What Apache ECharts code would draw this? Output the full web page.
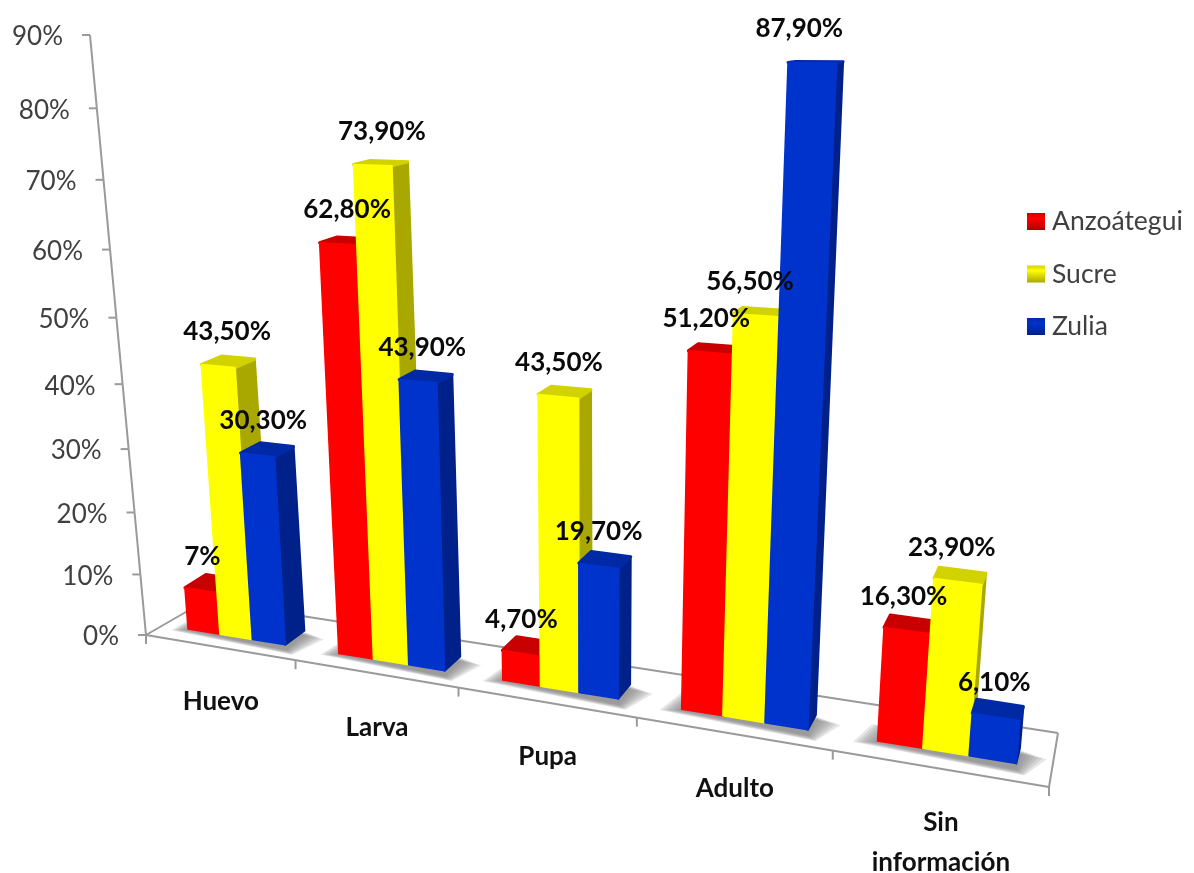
<!DOCTYPE html>
<html><head><meta charset="utf-8">
<style>html,body{margin:0;padding:0;background:#fff}#c{width:1194px;height:873px}</style>
<script src="https://cdn.jsdelivr.net/npm/echarts@6/dist/echarts.min.js"></script>
</head><body><div id="c"></div>
<script>
const categories = ['Huevo','Larva','Pupa','Adulto','Sin\ninformación'];
const seriesNames = ['Anzoátegui','Sucre','Zulia'];
const anzoategui = [7, 62.8, 4.7, 51.2, 16.3];
const sucre = [43.5, 73.9, 43.5, 56.5, 23.9];
const zulia = [30.3, 43.9, 19.7, 87.9, 6.1];
const anzoateguiLabels = ['7%','62,80%','4,70%','51,20%','16,30%'];
const sucreLabels = ['43,50%','73,90%','43,50%','56,50%','23,90%'];
const zuliaLabels = ['30,30%','43,90%','19,70%','87,90%','6,10%'];
const axisTicks = [0,10,20,30,40,50,60,70,80,90];

const FONT = 'Lato';
const W = 1194, H = 873;
const colors = [
  {front:'#FF0000', side:'#B00000', top:'#C80000'},
  {front:'#FFFF00', side:'#A8A800', top:'#D2D200'},
  {front:'#0033CC', side:'#00208A', top:'#0029A6'}
];
// perspective planes: o=(cat 0,val 0), u=(cat 5,val 0), v=(cat 0,val 90), a/b = projective weights
const axisPlane = {o:[146,635], u:[1049,787], v:[90,35], a:0.794, b:0.898};
const frontPlane = {o:[188,629], u:[1093,776], v:[144,44], a:0.80, b:0.90};
const backPlane = {o:[209,615], u:[1095,761], v:[165,42], a:0.80, b:0.90};
const floorBack = [[205,601],[1058,733]];
const CLUSTER = 0.655, BAR = CLUSTER/3;

function project(pl, flat){
  const s = flat[0]/W, t = (H-flat[1])/H;
  const d = 1 + s*(pl.a-1) + t*(pl.b-1);
  return [0,1].map(k => (pl.o[k] + s*(pl.a*pl.u[k]-pl.o[k]) + t*(pl.b*pl.v[k]-pl.o[k]))/d);
}
// flat pixel position through ECharts' axes: band index + fraction, value
function flatAt(api, idx, frac, val){
  const p = api.coord([idx, val]);
  const band = api.size([1,0])[0];
  return [p[0]-band/2+frac*band, p[1]];
}
const P = (pl, api, idx, frac, val) => project(pl, flatAt(api, idx, frac, val));
const poly = (pts, fill, lw) => ({type:'polygon', shape:{points:pts}, style:{fill, stroke:fill, lineWidth:lw||1.5, lineJoin:'round'}});
const line = (a,b,w) => ({type:'line', shape:{x1:a[0],y1:a[1],x2:b[0],y2:b[1]}, style:{stroke:'#9A9A9A', lineWidth:w||2}});

function barRender(sIdx){
  return (params, api) => {
    const i = api.value(0), v = api.value(1), c = colors[sIdx];
    const f0 = sIdx*BAR, f1 = f0+BAR;
    const fl0=P(frontPlane,api,i,f0,0), fr0=P(frontPlane,api,i,f1,0), fl1=P(frontPlane,api,i,f0,v), fr1=P(frontPlane,api,i,f1,v);
    const br0=P(backPlane,api,i,f1,0), br1=P(backPlane,api,i,f1,v), bl1=P(backPlane,api,i,f0,v);
    return {type:'group', children:[
      poly([fr0,br0,br1,fr1], c.side, 2),
      poly([fl1,fr1,br1,bl1], c.top, 3),
      poly([fl0,fr0,fr1,fl1], c.front, 1.5)
    ]};
  };
}
function shadowRender(params, api){
  const i = api.value(0);
  const kids = [];
  for(let e=6;e>=0;e--){
    const pts = [
      P(frontPlane,api,i,-0.01-0.018*e,-0.2-0.08*e),
      P(frontPlane,api,i,CLUSTER+0.005+0.006*e,-0.9-0.1*e),
      P(backPlane,api,i,CLUSTER+0.02+0.018*e,-0.3-0.1*e),
      P(backPlane,api,i,0.03-0.015*e,0)
    ];
    kids.push({type:'polygon', shape:{points:pts}, style:{fill:'rgba(128,128,128,0.2)'}});
  }
  return {type:'group', children:kids};
}
function floorRender(params, api){
  const i = api.value(0);
  const a = P(axisPlane,api,i,1,0), m0 = P(axisPlane,api,i,0,0);
  const kids = [
    line(a,[a[0],a[1]+9]),
    {type:'text', style:{text:categories[i], x:(a[0]+m0[0])/2, y:(a[1]+m0[1])/2+34, align:'center', verticalAlign:'top',
      fill:'#111', fontFamily:FONT, fontWeight:'bold', fontSize:26, lineHeight:40}}
  ];
  if(i===0){
    const e = P(axisPlane,api,4,1,0);
    kids.push(line(m0,e), line(m0,floorBack[0]), line(floorBack[0],floorBack[1]), line(floorBack[1],e), line(m0,[m0[0],m0[1]+9]));
  }
  return {type:'group', children:kids};
}
function yAxisRender(params, api){
  const v = api.value(1);
  const p = P(axisPlane,api,0,0,v);
  const kids = [
    line(p,[p[0]-8,p[1]]),
    {type:'text', style:{text:v+'%', x:p[0]-27, y:p[1]+2, align:'right', verticalAlign:'middle', fill:'#404040', fontFamily:FONT, fontSize:26}}
  ];
  if(v>0) kids.push(line(p, P(axisPlane,api,0,0,v-10)));
  return {type:'group', children:kids};
}
function labelRender(params, api){
  const i = api.value(0), s = api.value(1), v = api.value(2);
  const f = (s+0.5)*BAR;
  const top = P(frontPlane,api,i,f,v), base = P(frontPlane,api,i,f,0);
  const x = base[0] + 0.5*(top[0]-base[0]);
  return {type:'text', style:{text:labelTable[params.dataIndex][3], x, y:top[1]-34, align:'center', verticalAlign:'middle',
    fill:'#0A0A0A', fontFamily:FONT, fontWeight:'bold', fontSize:26}};
}
const valueLists = [anzoategui, sucre, zulia];
const labelLists = [anzoateguiLabels, sucreLabels, zuliaLabels];
const labelTable = [];
valueLists.forEach((vals,s)=>vals.forEach((v,i)=>labelTable.push([i,s,v,labelLists[s][i]])));
const catRows = categories.map((c,i)=>[i,0]);

const legendFill = c => ({type:'linear',x:0,y:0,x2:0,y2:1,colorStops:[{offset:0,color:c.top},{offset:0.3,color:c.front},{offset:1,color:c.side}]});

const chart = echarts.init(document.getElementById('c'), null, {renderer:'canvas'});
chart.setOption({
  animation:false,
  backgroundColor:'#fff',
  grid:{left:0, top:0, width:W, height:H},
  xAxis:{type:'category', data:categories, show:false},
  yAxis:{type:'value', min:0, max:90, interval:10, show:false},
  legend:{orient:'vertical', left:1022, top:203, itemWidth:18, itemHeight:17, itemGap:25.5, selectedMode:false,
    textStyle:{fontFamily:FONT, fontSize:26.5, color:'#404040', padding:[0,0,0,2]},
    data:seriesNames.map((n,s)=>({name:n, icon:'rect', itemStyle:{color:legendFill(colors[s]), borderWidth:0}}))},
  series:[
    {type:'custom', name:'floor', z:1, data:catRows, renderItem:floorRender, silent:true},
    {type:'custom', name:'yaxis', z:1, data:axisTicks.map(v=>[0,v]), renderItem:yAxisRender, silent:true},
    {type:'custom', name:'shadow', z:2, data:catRows, renderItem:shadowRender, silent:true},
    ...valueLists.map((vals,s)=>({type:'custom', name:seriesNames[s], z:3+s, itemStyle:{color:colors[s].front},
      data:vals.map((v,i)=>[i,v]), renderItem:barRender(s)})),
    {type:'custom', name:'labels', z:10, data:labelTable.map(r=>r.slice(0,3)), renderItem:labelRender, silent:true,
      encode:{x:0,y:2}}
  ]
});
</script></body></html>
